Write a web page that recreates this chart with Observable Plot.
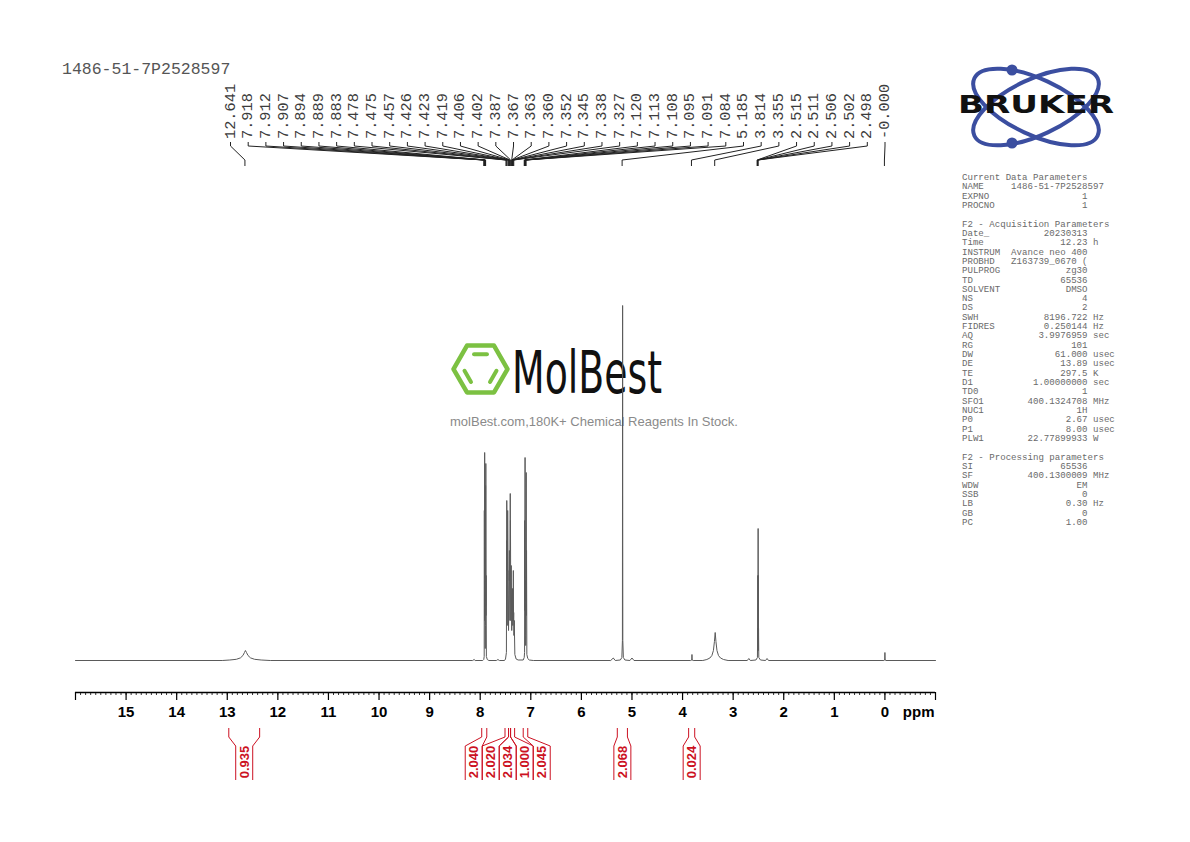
<!DOCTYPE html>
<html><head><meta charset="utf-8">
<script src="https://cdn.jsdelivr.net/npm/d3@7"></script>
<script src="https://cdn.jsdelivr.net/npm/@observablehq/plot@0.6"></script>
<style>html,body{margin:0;padding:0;background:#fff;} svg{display:block}</style>
</head><body><div id="chart"></div>
<script>
// ---------- data ----------
const sampleName = "1486-51-7P2528597";
const peakLabels = ["12.641","7.918","7.912","7.907","7.894","7.889","7.883","7.478","7.475","7.457","7.426","7.423","7.419","7.406","7.402","7.387","7.367","7.363","7.360","7.352","7.345","7.338","7.327","7.120","7.113","7.108","7.095","7.091","7.084","5.185","3.814","3.355","2.515","2.511","2.506","2.502","2.498","-0.000"];
const tickLabels = [15,14,13,12,11,10,9,8,7,6,5,4,3,2,1,0];
const majorTicks = [16,15,14,13,12,11,10,9,8,7,6,5,4,3,2,1,0,-1];
const minorTicks = d3.range(-10, 161).map(i => i / 10);
const integralValues = ["0.935","2.040","2.020","2.034","1.000","2.045","2.068","0.024"];
const integralFrom = [12.96, 7.96, 7.50, 7.43, 7.39, 7.14, 5.28, 3.87];
const integralTo   = [12.35, 7.86, 7.43, 7.39, 7.31, 7.05, 5.08, 3.75];
// spectrum points [ppm, intensity]
const spectrum = [
 [16.0,0],[13.10,0],
 [12.95,0.5],[12.82,1.2],[12.74,2.6],[12.69,5],[12.66,8],[12.641,10],[12.62,8],[12.59,5],[12.54,2.6],[12.46,1.2],[12.33,0.5],[12.15,0],
 [8.15,0],[8.12,1],[8.10,0],
 [7.95,0],[7.93,1],[7.921,4],[7.918,150],[7.915,40],[7.912,208],[7.909,50],[7.907,75],[7.900,12],[7.897,35],[7.894,175],[7.891,55],[7.889,197],[7.886,45],[7.883,85],[7.878,4],[7.86,1],[7.83,0],
 [7.68,0],[7.65,1],[7.62,0],
 [7.52,0],[7.50,1.5],[7.482,8],[7.478,120],[7.4765,90],[7.475,160],[7.466,35],[7.457,150],[7.440,30],[7.426,90],[7.4245,80],[7.423,110],[7.421,85],[7.419,95],[7.412,40],[7.406,167],[7.404,110],[7.402,140],[7.395,40],[7.387,95],[7.377,30],[7.367,62],[7.365,50],[7.363,72],[7.3615,55],[7.360,60],[7.356,35],[7.352,55],[7.349,40],[7.345,90],[7.342,40],[7.338,48],[7.333,25],[7.327,40],[7.315,6],[7.29,1.5],[7.25,0.5],
 [7.15,0.5],[7.13,3],[7.123,8],[7.120,140],[7.117,50],[7.113,203],[7.110,60],[7.108,80],[7.101,15],[7.098,25],[7.095,70],[7.093,60],[7.091,188],[7.088,45],[7.084,110],[7.078,6],[7.06,2],[7.03,0.5],[6.95,0],
 [5.42,0],[5.37,2.5],[5.33,0],[5.23,0.5],[5.20,3],[5.189,20],[5.185,355],[5.181,20],[5.17,3],[5.14,0.5],[5.04,0],[5.00,2.5],[4.96,0],
 [3.84,0],[3.818,0.5],[3.814,6],[3.810,0.5],[3.79,0],
 [3.60,0],[3.52,1],[3.46,2.5],[3.42,5],[3.39,10],[3.37,19],[3.355,28],[3.34,19],[3.32,10],[3.29,5],[3.25,2.5],[3.19,1],[3.10,0],
 [2.72,0],[2.69,2],[2.66,0],[2.55,0.5],[2.52,3],[2.515,32],[2.513,10],[2.511,85],[2.5085,25],[2.506,132],[2.5035,25],[2.502,85],[2.500,10],[2.498,32],[2.493,3],[2.46,0.5],[2.36,0],[2.33,2],[2.30,0],
 [0.02,0],[0.004,0.5],[0.000,8],[-0.004,0.5],[-0.02,0],[-1.0,0]
];
const paramsCurrent = [["NAME","1486-51-7P2528597",""],["EXPNO","1",""],["PROCNO","1",""]];
const paramsAcq = [["Date_","20230313",""],["Time","12.23","h"],["INSTRUM","Avance neo 400",""],["PROBHD","Z163739_0670 (",""],["PULPROG","zg30",""],["TD","65536",""],["SOLVENT","DMSO",""],["NS","4",""],["DS","2",""],["SWH","8196.722","Hz"],["FIDRES","0.250144","Hz"],["AQ","3.9976959","sec"],["RG","101",""],["DW","61.000","usec"],["DE","13.89","usec"],["TE","297.5","K"],["D1","1.00000000","sec"],["TD0","1",""],["SFO1","400.1324708","MHz"],["NUC1","1H",""],["P0","2.67","usec"],["P1","8.00","usec"],["PLW1","22.77899933","W"]];
const paramsProc = [["SI","65536",""],["SF","400.1300009","MHz"],["WDW","EM",""],["SSB","0",""],["LB","0.30","Hz"],["GB","0",""],["PC","1.00",""]];

// ---------- chart ----------
const yMin = -32, yMax = 355;
const chart = Plot.plot({
  width: 1190, height: 842,
  marginLeft: 75, marginRight: 255, marginTop: 305, marginBottom: 150,
  style: {background: "#fff", fontFamily: "'Liberation Sans', Arial, sans-serif"},
  x: {domain: [16, -1], axis: null},
  y: {domain: [yMin, yMax], axis: null},
  marks: [
    Plot.ruleY([yMin], {stroke: "#000", strokeWidth: 1.3}),
    Plot.ruleX(majorTicks, {x: d => d, y1: yMin, y2: yMin - 8, stroke: "#000", strokeWidth: 1.2}),
    Plot.ruleX(minorTicks, {x: d => d, y1: yMin, y2: yMin - 3, stroke: "#000", strokeWidth: 0.8}),
    Plot.text(tickLabels, {x: d => d, y: () => yMin, dy: 20, text: d => String(d), fontSize: 15, fontWeight: "bold", fill: "#000"}),
    Plot.text(["ppm"], {frameAnchor: "bottom-right", dy: 20, dx: -1, textAnchor: "end", lineAnchor: "middle", fontSize: 15, fontWeight: "bold", fill: "#000"}),
    Plot.line(spectrum, {x: d => d[0], y: d => d[1], stroke: "#5a5a5a", strokeWidth: 1})
  ]
});
document.getElementById("chart").appendChild(chart);

const xs = chart.scale("x");
const X = v => xs.apply(v);
const svg = d3.select(chart);
const mono = "'Liberation Mono', 'DejaVu Sans Mono', monospace";

// watermark (below marks)
const wm = svg.insert("g", "g");
const hx = 480.5, hy = 369, hr = 27;
const hex = d3.range(6).map(k => [hx + hr * Math.cos(k * Math.PI / 3), hy + hr * Math.sin(k * Math.PI / 3)]);
wm.append("path").attr("d", "M" + hex.map(p => p.join(",")).join("L") + "Z")
  .attr("fill", "none").attr("stroke", "#7cc142").attr("stroke-width", 4.5).attr("stroke-linejoin", "round");
const ir = 17;
const iv = d3.range(6).map(k => [hx + ir * Math.cos(k * Math.PI / 3), hy + ir * Math.sin(k * Math.PI / 3)]);
[[4,5],[2,3],[0,1]].forEach(([a,b]) => {
  const p = iv[a], q = iv[b], s = 0.12;
  wm.append("line")
    .attr("x1", p[0] + (q[0]-p[0])*s).attr("y1", p[1] + (q[1]-p[1])*s)
    .attr("x2", q[0] - (q[0]-p[0])*s).attr("y2", q[1] - (q[1]-p[1])*s)
    .attr("stroke", "#7cc142").attr("stroke-width", 4).attr("stroke-linecap", "round");
});
wm.append("text").attr("x", 512).attr("y", 393).attr("text-anchor", "start").text("MolBest")
  .attr("font-family", "'DejaVu Sans', sans-serif").attr("font-size", 58).attr("fill", "#111")
  .attr("textLength", 150).attr("lengthAdjust", "spacingAndGlyphs");
wm.append("text").attr("x", 594).attr("y", 426).attr("text-anchor", "middle")
  .text("molBest.com,180K+ Chemical Reagents In Stock.")
  .attr("font-family", "'Liberation Sans', Arial, sans-serif").attr("font-size", 13).attr("fill", "#8a8a8a");

// sample name
svg.append("text").attr("x", 62).attr("y", 74).attr("text-anchor", "start").text(sampleName)
  .attr("font-family", mono).attr("font-size", 16.5).attr("fill", "#555");

// peak labels
const gp = svg.append("g");
const lx0 = 230.5, lx1 = 885;
const step = (lx1 - lx0) / (peakLabels.length - 1);
peakLabels.forEach((lab, i) => {
  const lx = lx0 + i * step, px = X(+lab);
  gp.append("text").attr("transform", `translate(${lx},139) rotate(-90)`)
    .attr("dominant-baseline", "central").attr("text-anchor", "start")
    .attr("font-family", mono).attr("font-size", 15.3).attr("fill", "#3c3c3c").text(lab);
  gp.append("path").attr("d", `M${lx},142V146L${px},160V166`)
    .attr("fill", "none").attr("stroke", "#222").attr("stroke-width", 1);
});

// integrals
const red = "#cc1122";
const mids = integralFrom.map((f, i) => (X(f) + X(integralTo[i])) / 2);
const gap = 17;
let clusters = mids.map((m, i) => ({idx: [i]}));
const place = c => { const mean = d3.mean(c.idx, i => mids[i]); c.pos = c.idx.map((_, k) => mean + (k - (c.idx.length - 1) / 2) * gap); };
clusters.forEach(place);
let merged = true;
while (merged) {
  merged = false;
  for (let k = 1; k < clusters.length; k++) {
    const a = clusters[k-1], b = clusters[k];
    if (a.pos[a.pos.length-1] + gap > b.pos[0]) {
      const c = {idx: a.idx.concat(b.idx)}; place(c);
      clusters.splice(k-1, 2, c); merged = true; break;
    }
  }
}
const labelX = [];
clusters.forEach(c => c.idx.forEach((i, k) => labelX[i] = c.pos[k]));
const gi = svg.append("g");
integralValues.forEach((v, i) => {
  const x1 = X(integralFrom[i]), x2 = X(integralTo[i]), lx = labelX[i], h = gap / 2;
  gi.append("path").attr("d", `M${x1},728V737L${lx - h},746V780M${x2},728V737L${lx + h},746V780`)
    .attr("fill", "none").attr("stroke", red).attr("stroke-width", 1);
  gi.append("text").attr("transform", `translate(${lx},762) rotate(-90)`)
    .attr("text-anchor", "middle").attr("dominant-baseline", "central")
    .attr("font-family", "'Liberation Sans', Arial, sans-serif").attr("font-weight", "bold")
    .attr("font-size", 13).attr("fill", red).text(v);
});

// parameter panel
const fmt = ([n, v, u]) => n === "NAME" ? n.padEnd(9) + v : n.padEnd(23 - v.length) + v + (u ? " " + u : "");
const lines = ["Current Data Parameters", ...paramsCurrent.map(fmt), "", "F2 - Acquisition Parameters", ...paramsAcq.map(fmt), "", "F2 - Processing parameters", ...paramsProc.map(fmt)];
const gt = svg.append("g").attr("text-anchor", "start");
lines.forEach((t, i) => {
  if (!t) return;
  gt.append("text").attr("x", 962).attr("y", 180 + i * 9.32).attr("text-anchor", "start").text(t)
    .attr("xml:space", "preserve").style("white-space", "pre")
    .attr("font-family", mono).attr("font-size", 9.1).attr("fill", "#6a6a6a");
});

// Bruker logo
const gb = svg.append("g");
const blue = "#3b4ea0";
[25, -25].forEach(a => gb.append("ellipse").attr("cx", 1036).attr("cy", 107).attr("rx", 68).attr("ry", 28)
  .attr("transform", `rotate(${a},1036,107)`).attr("fill", "none").attr("stroke", blue).attr("stroke-width", 4));
gb.append("circle").attr("cx", 1012).attr("cy", 70).attr("r", 5.5).attr("fill", blue);
gb.append("circle").attr("cx", 1012).attr("cy", 143).attr("r", 5.5).attr("fill", blue);
gb.append("text").attr("x", 1036).attr("y", 113).attr("text-anchor", "middle").text("BRUKER")
  .attr("font-family", "'DejaVu Sans', sans-serif").attr("font-weight", "bold").attr("font-size", 24)
  .attr("fill", "#111").attr("textLength", 156).attr("lengthAdjust", "spacingAndGlyphs");
</script></body></html>
